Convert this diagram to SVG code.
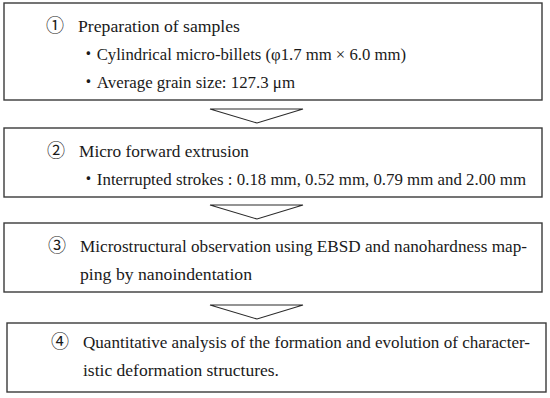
<svg xmlns="http://www.w3.org/2000/svg" width="550" height="398" viewBox="0 0 550 398">
<style>
.box{fill:#fff;stroke:#3a3a3a;stroke-width:1.4}
.tri{fill:#fff;stroke:#2a2a2a;stroke-width:1.1;stroke-linejoin:miter}
.t{font-family:"Liberation Serif","Noto Sans CJK JP",serif;font-size:17.5px;fill:#1a1a1a}
.n{font-family:"Noto Sans CJK JP","DejaVu Sans",sans-serif;font-size:18px;fill:#1a1a1a;text-anchor:middle}
</style>
<rect width="550" height="398" fill="#fff"/>
<g id="connectors">
<polygon class="tri" points="210,109 303,109 257,123"/>
<polygon class="tri" points="210,205 303,205 257,219"/>
<polygon class="tri" points="210,305 303,305 257,319"/>
</g>
<g id="step1">
<rect class="box" x="4" y="3" width="538" height="97"/>
<text class="n" x="55" y="32">①</text>
<text class="t" x="78" y="32" textLength="162" lengthAdjust="spacingAndGlyphs">Preparation of samples</text>
<text class="t" x="80" y="60" textLength="326" lengthAdjust="spacingAndGlyphs">・Cylindrical micro-billets (φ1.7 mm × 6.0 mm)</text>
<text class="t" x="80" y="88" textLength="215" lengthAdjust="spacingAndGlyphs">・Average grain size: 127.3 μm</text>
</g>
<g id="step2">
<rect class="box" x="4" y="128" width="538" height="69"/>
<text class="n" x="56" y="157">②</text>
<text class="t" x="79" y="157" textLength="170" lengthAdjust="spacingAndGlyphs">Micro forward extrusion</text>
<text class="t" x="80" y="185" textLength="446" lengthAdjust="spacingAndGlyphs">・Interrupted strokes : 0.18 mm, 0.52 mm, 0.79 mm and 2.00 mm</text>
</g>
<g id="step3">
<rect class="box" x="4" y="223" width="538" height="69"/>
<text class="n" x="57" y="252">③</text>
<text class="t" x="80" y="252" textLength="447" lengthAdjust="spacingAndGlyphs">Microstructural observation using EBSD and nanohardness map-</text>
<text class="t" x="80" y="280" textLength="172" lengthAdjust="spacingAndGlyphs">ping by nanoindentation</text>
</g>
<g id="step4">
<rect class="box" x="7" y="323" width="539" height="69"/>
<text class="n" x="60" y="348">④</text>
<text class="t" x="83" y="348" textLength="447" lengthAdjust="spacingAndGlyphs">Quantitative analysis of the formation and evolution of character-</text>
<text class="t" x="83" y="376" textLength="196" lengthAdjust="spacingAndGlyphs">istic deformation structures.</text>
</g>
</svg>
